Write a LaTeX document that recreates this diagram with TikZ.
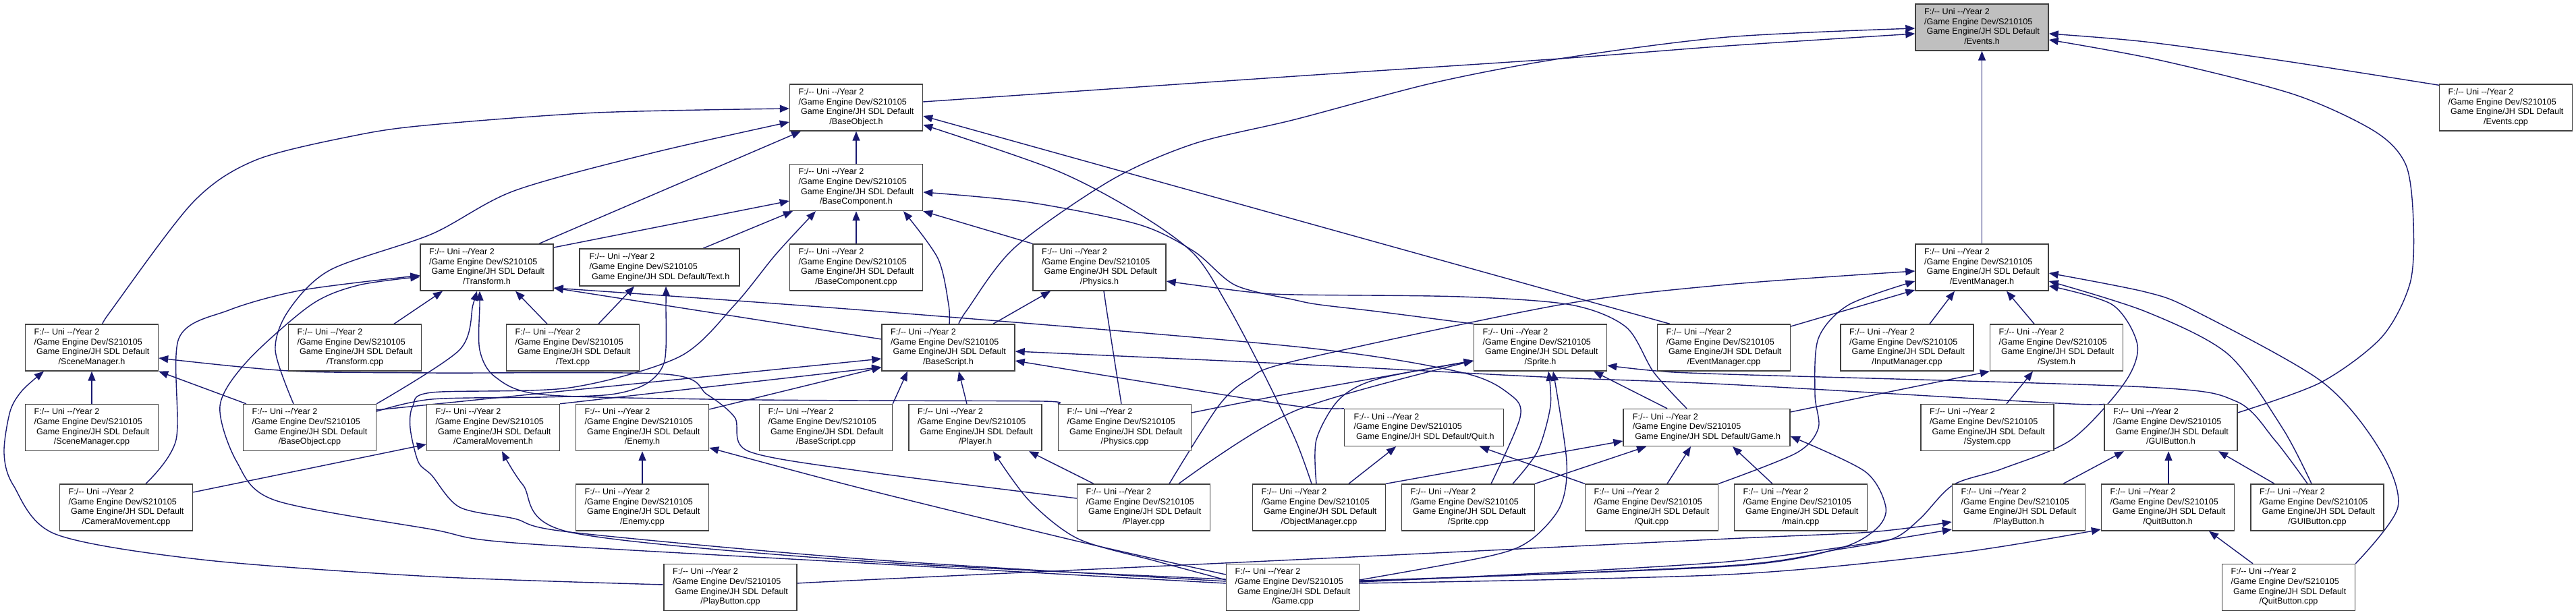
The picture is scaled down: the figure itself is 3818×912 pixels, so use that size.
\documentclass[tikz,border=0pt]{standalone}
\usepackage{fontspec}
\setmainfont{Liberation Sans}
\usetikzlibrary{arrows.meta}
\pgfdeclarelayer{bg}
\pgfdeclarelayer{edgelayer}
\pgfsetlayers{bg,edgelayer,main}
\definecolor{edgecol}{HTML}{191970}
\definecolor{bordercol}{HTML}{404040}
\definecolor{grayfill}{HTML}{BFBFBF}
\newcommand{\fourl}[1]{\begin{tabular}{@{}l@{}}F:/-{}- Uni -{}-/Year 2\\/Game Engine Dev/S210105\\\ Game Engine/JH SDL Default\\\multicolumn{1}{@{}c@{}}{#1}\end{tabular}}
\newcommand{\threel}[1]{\begin{tabular}{@{}l@{}}F:/-{}- Uni -{}-/Year 2\\/Game Engine Dev/S210105\\\ Game Engine/JH SDL Default/#1\end{tabular}}
\begin{document}
\begin{tikzpicture}[x=1pt, y=-1pt,
  font=\fontsize{12.6}{14.7}\selectfont,
  box/.style={draw=bordercol, line width=1.4pt, fill=white, inner sep=0pt, minimum width=197pt, minimum height=69pt},
  sbox/.style={box, minimum height=55pt},
  edge/.style={draw=edgecol, line width=1.4pt, -{Triangle[length=14pt,width=11pt]}}]
\begin{pgfonlayer}{bg}
\fill[white] (0,0) rectangle (3818,912);
\end{pgfonlayer}
\useasboundingbox (0,0) rectangle (3818,912);
% nodes
\node[box, fill=grayfill] (evh) at (2937.5,40.5) {\fourl{/Events.h}};
\node[box] (evcpp) at (3714,159.5) {\fourl{/Events.cpp}};
\node[box] (evm) at (2937.5,396.5) {\fourl{/EventManager.h}};
\node[box] (boh) at (1269,159.5) {\fourl{/BaseObject.h}};
\node[box] (bch) at (1269,278) {\fourl{/BaseComponent.h}};
\node[box] (bccpp) at (1269,396.5) {\fourl{/BaseComponent.cpp}};
\node[box] (trh) at (721.5,396.5) {\fourl{/Transform.h}};
\node[sbox, minimum width=237pt] (txh) at (977.5,396.5) {\threel{Text.h}};
\node[box] (phh) at (1629.5,396.5) {\fourl{/Physics.h}};
\node[box] (smh) at (136,515.5) {\fourl{/SceneManager.h}};
\node[box] (trcpp) at (526,515.5) {\fourl{/Transform.cpp}};
\node[box] (txcpp) at (849,515.5) {\fourl{/Text.cpp}};
\node[box] (bsh) at (1405.5,515.5) {\fourl{/BaseScript.h}};
\node[box] (sph) at (2283,515.5) {\fourl{/Sprite.h}};
\node[box] (emcpp) at (2555,515.5) {\fourl{/EventManager.cpp}};
\node[box] (imcpp) at (2826.5,515.5) {\fourl{/InputManager.cpp}};
\node[box] (sysh) at (3048,515.5) {\fourl{/System.h}};
\node[box] (smcpp) at (136,634) {\fourl{/SceneManager.cpp}};
\node[box] (bocpp) at (459,634) {\fourl{/BaseObject.cpp}};
\node[box] (cmh) at (731,634) {\fourl{/CameraMovement.h}};
\node[box] (enh) at (952,634) {\fourl{/Enemy.h}};
\node[box] (bscpp) at (1224,634) {\fourl{/BaseScript.cpp}};
\node[box] (plh) at (1445.5,634) {\fourl{/Player.h}};
\node[box] (phcpp) at (1667,634) {\fourl{/Physics.cpp}};
\node[sbox, minimum width=236pt] (qh) at (2110.6,634) {\threel{Quit.h}};
\node[sbox, minimum width=247pt] (gh) at (2529.5,634) {\threel{Game.h}};
\node[box] (syscpp) at (2945.5,634) {\fourl{/System.cpp}};
\node[box] (guih) at (3217.5,634) {\fourl{/GUIButton.h}};
\node[box] (cmcpp) at (187,752.5) {\fourl{/CameraMovement.cpp}};
\node[box] (encpp) at (952,752.5) {\fourl{/Enemy.cpp}};
\node[box] (plcpp) at (1695,752.5) {\fourl{/Player.cpp}};
\node[box] (omcpp) at (1955,752.5) {\fourl{/ObjectManager.cpp}};
\node[box] (spcpp) at (2176,752.5) {\fourl{/Sprite.cpp}};
\node[box] (qcpp) at (2448,752.5) {\fourl{/Quit.cpp}};
\node[box] (maincpp) at (2669,752.5) {\fourl{/main.cpp}};
\node[box] (pbh) at (2992,752.5) {\fourl{/PlayButton.h}};
\node[box] (qbh) at (3213,752.5) {\fourl{/QuitButton.h}};
\node[box] (guicpp) at (3434.5,752.5) {\fourl{/GUIButton.cpp}};
\node[box] (pbcpp) at (1082.5,871) {\fourl{/PlayButton.cpp}};
\node[box] (gcpp) at (1916,871) {\fourl{/Game.cpp}};
\node[box] (qbcpp) at (3392,871) {\fourl{/QuitButton.cpp}};
\begin{pgfonlayer}{edgelayer}
% Events.h
\draw[edge] (evm.north) -- (evh.south);
\draw[edge] plot[smooth] coordinates {([yshift=-2pt]evcpp.north west) (3383,90) (3180,62) ([yshift=-9.5pt]evh.east)};
\draw[edge] plot[smooth] coordinates {([yshift=22pt]guih.east) (3440,567) (3530,500) (3572,420) (3577,330) (3566,245) (3520,195) (3400,140) (3200,89) ([yshift=-18.5pt]evh.east)};
\draw[edge] plot[smooth] coordinates {([yshift=8.5pt]boh.east) (1920,113) (2312,87) (2560,68) ([yshift=-9.5pt]evh.west)};
\draw[edge] plot[smooth] coordinates {([xshift=15.5pt]bsh.north) (1433,460) (1504,367) (1647,267) (1770,213) (1920,177) (2124,123) (2312,87) (2560,55) ([yshift=-1.5pt]evh.west)};
% BaseObject.h
\draw[edge] (bch.north) -- (boh.south);
\draw[edge] ([xshift=77.5pt]trh.north) -- ([xshift=-82pt]boh.south);
\draw[edge] plot[smooth] coordinates {([xshift=17pt]smh.north) (165,460) (286,300) (380,237) (531,200) (640,185) (885,167) ([yshift=-1.5pt]boh.west)};
\draw[edge] plot[smooth] coordinates {([xshift=-24pt]bocpp.north) (408,519) (428,460) (490,400) (640,347) (762,283) (966,227) ([yshift=-21.5pt]boh.west)};
\draw[edge] ([xshift=-80pt]emcpp.north) -- ([yshift=-12.5pt]boh.east);
\draw[edge] plot[smooth] coordinates {([xshift=-11pt]omcpp.north) (1920,652) (1872,552) (1819,452) (1770,377) (1688,317) (1566,253) ([yshift=-25.5pt]boh.east)};
% BaseComponent.h
\draw[edge] ([yshift=29.5pt]trh.east) -- ([yshift=-20pt]bch.west);
\draw[edge] ([xshift=64.5pt]txh.north) -- ([xshift=-94pt]bch.south);
\draw[edge] plot[smooth] coordinates {([yshift=9pt]gcpp.west) (1280,829) (844,789) (762,769) (681,752) (640,705) (620,685) (608,635) (612,602) (640,582) (844,575) (1007,529) (1089,452) (1150,377) ([xshift=-60pt]bch.south)};
\draw[edge] (bccpp.north) -- (bch.south);
\draw[edge] (phh.north west) -- (bch.south east);
\draw[edge] plot[smooth] coordinates {([xshift=1.5pt]bsh.north) (1406,452) (1390,383) ([xshift=70pt]bch.south)};
\draw[edge] plot[smooth] coordinates {(sph.north west) (2042,462) (1957,452) (1920,445) (1831,423) (1770,373) (1688,333) (1525,300) ([yshift=-7pt]bch.east)};
% Physics.h
\draw[edge] plot[smooth] coordinates {([xshift=-29.5pt]gh.north) (2451,552) (2410,485) (2328,452) (2165,440) (1920,437) (1851,433) ([yshift=-20.5pt]phh.east)};
\draw[edge] plot[smooth] coordinates {([xshift=-5pt]phcpp.north) (1639,452) ([xshift=7.5pt]phh.south)};
\draw[edge] ([xshift=66.5pt]bsh.north) -- ([xshift=-72.5pt]phh.south);
% Transform.h
\draw[edge] ([xshift=58pt]trcpp.north) -- ([xshift=-65.5pt]trh.south);
\draw[edge] plot[smooth] coordinates {(bocpp.north east) (681,519) (701,452) ([xshift=-14.5pt]trh.south)};
\draw[edge] plot[smooth] coordinates {(phcpp.north west) (1545,595) (1280,594) (1048,592) (803,585) (734,559) (711,519) (711,452) ([xshift=-10.5pt]trh.south)};
\draw[edge] ([xshift=-38pt]txcpp.north) -- ([xshift=42.5pt]trh.south);
\draw[edge] plot[smooth] coordinates {([xshift=29pt]cmcpp.north) (261,652) (265,502) (339,460) (449,430) ([yshift=-12pt]trh.west)};
\draw[edge] plot[smooth] coordinates {([yshift=6pt]gcpp.west) (1280,835) (762,805) (640,785) (408,742) (351,685) (326,602) (367,535) (461,452) (531,423) ([yshift=-14pt]trh.west)};
\draw[edge] ([yshift=12.5pt]bsh.west) -- ([yshift=-30.5pt]trh.east);
\draw[edge] plot[smooth] coordinates {([xshift=34pt]spcpp.north) (2253,619) (2238,585) (2165,552) (1920,514) (1280,460) ([yshift=-30.5pt]trh.east)};
% Text.h
\draw[edge] ([xshift=38pt]txcpp.north) -- ([xshift=-37.5pt]txh.south);
\draw[edge] plot[smooth] coordinates {([yshift=24pt]bocpp.east) (640,592) (803,589) (905,585) (958,569) (985,535) (987,452) ([xshift=9.5pt]txh.south)};
% SceneManager.h
\draw[edge] (smcpp.north) -- (smh.south);
\draw[edge] ([xshift=-94pt]bocpp.north) -- (smh.south east);
\draw[edge] plot[smooth] coordinates {([yshift=13.5pt]plcpp.west) (1280,699) (1109,669) (1089,619) (1048,585) (987,555) (640,553) (428,550) ([yshift=-15.5pt]smh.east)};
\draw[edge] plot[smooth] coordinates {([yshift=4pt]pbcpp.west) (640,855) (300,830) (82,792) (20,720) (6,672) (15,610) (33,579) ([xshift=-71pt]smh.south)};
% BaseScript.h
\draw[edge] ([yshift=26pt]bocpp.east) -- ([yshift=-16.5pt]bsh.west);
\draw[edge] (cmh.north east) -- ([yshift=-29pt]bsh.west);
\draw[edge] ([yshift=27pt]enh.east) -- ([yshift=-29pt]bsh.west);
\draw[edge] (bscpp.north east) -- ([xshift=-60.5pt]bsh.south);
\draw[edge] ([xshift=-12.5pt]plh.north) -- ([xshift=15.5pt]bsh.south);
\draw[edge] plot[smooth] coordinates {(guih.north west) (3050,598) (2560,570) (2287,559) (1920,540) ([yshift=-5.5pt]bsh.east)};
\draw[edge] plot[smooth] coordinates {(qh.north west) (1920,602) (1688,565) ([yshift=-19.5pt]bsh.east)};
% Sprite.h
\draw[edge] plot[smooth] coordinates {([yshift=22pt]phcpp.east) (1920,582) ([yshift=-19.5pt]sph.west)};
\draw[edge] plot[smooth] coordinates {([xshift=52pt]plcpp.north) (1920,609) ([yshift=-19.5pt]sph.west)};
\draw[edge] plot[smooth] coordinates {([xshift=-4pt]omcpp.north) (1951,652) (1985,592) (2042,562) ([yshift=-19.5pt]sph.west)};
\draw[edge] plot[smooth] coordinates {([xshift=66pt]spcpp.north) (2279,669) (2298,602) ([xshift=12pt]sph.south)};
\draw[edge] plot[smooth] coordinates {([yshift=11pt]gcpp.east) (2206,825) (2267,802) (2312,752) (2322,685) ([xshift=19pt]sph.south)};
\draw[edge] ([xshift=-58.5pt]gh.north) -- ([xshift=79pt]sph.south);
\draw[edge] plot[smooth] coordinates {([xshift=-14.5pt]guicpp.north) (3371,652) (3314,595) (3180,574) (2560,555) (2455,550) ([yshift=-26.5pt]sph.east)};
% EventManager.h
\draw[edge] ([yshift=31.5pt]emcpp.east) -- ([yshift=-33.5pt]evm.west);
\draw[edge] plot[smooth] coordinates {(qcpp.north east) (2662,672) (2695,635) (2690,585) (2695,502) (2740,452) ([yshift=-20.5pt]evm.west)};
\draw[edge] plot[smooth] coordinates {([xshift=38pt]plcpp.north) (1806,602) (1851,562) (1920,535) (2312,452) (2560,422) ([yshift=-5.5pt]evm.west)};
\draw[edge] ([xshift=33.5pt]imcpp.north) -- ([xshift=-40.5pt]evm.south);
\draw[edge] ([xshift=-33pt]sysh.north) -- ([xshift=36.5pt]evm.south);
\draw[edge] plot[smooth] coordinates {([xshift=-8.5pt]guicpp.north) (3383,635) (3302,525) (3180,462) ([yshift=-20.5pt]evm.east)};
\draw[edge] plot[smooth] coordinates {(qbcpp.north east) (3554,752) (3526,665) (3440,565) (3251,460) (3180,433) ([yshift=-8.5pt]evm.east)};
\draw[edge] plot[smooth] coordinates {([yshift=9pt]gcpp.east) (2560,839) (2723,815) (2805,799) (2846,769) (2895,719) (2968,695) (3070,652) (3148,569) (3168,512) (3131,452) ([yshift=-27.5pt]evm.east)};
% System.h
\draw[edge] ([xshift=28.5pt]syscpp.north) -- ([xshift=-35pt]sysh.south);
\draw[edge] ([yshift=23pt]gh.east) -- (sysh.south west);
% GUIButton.h
\draw[edge] ([xshift=-63.5pt]guicpp.north) -- ([xshift=70.5pt]guih.south);
\draw[edge] ([xshift=66pt]pbh.north) -- ([xshift=-69.5pt]guih.south);
\draw[edge] ([xshift=1pt]qbh.north) -- ([xshift=-3.5pt]guih.south);
% CameraMovement.h
\draw[edge] ([yshift=22.5pt]cmcpp.east) -- ([yshift=-25pt]cmh.west);
\draw[edge] plot[smooth] coordinates {([yshift=12pt]gcpp.west) (1280,832) (844,789) (775,719) ([xshift=13pt]cmh.south)};
% Enemy.h
\draw[edge] (encpp.north) -- (enh.south);
\draw[edge] plot[smooth] coordinates {([yshift=19pt]gcpp.west) (1607,805) (1280,725) ([yshift=-30pt]enh.east)};
% Player.h
\draw[edge] ([xshift=-74pt]plcpp.north) -- ([xshift=79.5pt]plh.south);
\draw[edge] plot[smooth] coordinates {([yshift=11pt]gcpp.west) (1713,832) (1598,799) (1525,742) ([xshift=26.5pt]plh.south)};
% Quit.h
\draw[edge] (qcpp.north west) -- ([xshift=82.5pt]qh.south);
\draw[edge] ([xshift=44pt]omcpp.north) -- ([xshift=-41.5pt]qh.south);
% Game.h
\draw[edge] (omcpp.north east) -- ([yshift=-20pt]gh.west);
\draw[edge] (spcpp.north east) -- ([xshift=-89.5pt]gh.south);
\draw[edge] ([xshift=23pt]qcpp.north) -- ([xshift=-23.5pt]gh.south);
\draw[edge] ([xshift=-42pt]maincpp.north) -- ([xshift=38.5pt]gh.south);
\draw[edge] plot[smooth] coordinates {([yshift=10pt]gcpp.east) (2560,840) (2723,814) (2780,785) (2795,752) (2764,699) ([yshift=-13pt]gh.east)};
% PlayButton.h / QuitButton.h
\draw[edge] plot[smooth] coordinates {([yshift=6pt]pbcpp.east) (1280,860) (1920,830) (2560,799) (2772,789) ([yshift=-21.5pt]pbh.west)};
\draw[edge] plot[smooth] coordinates {([yshift=8pt]gcpp.east) (2560,833) ([yshift=-32.5pt]pbh.west)};
\draw[edge] plot[smooth] coordinates {([yshift=6pt]gcpp.east) (2560,852) (2900,820) ([yshift=-32.5pt]qbh.west)};
\draw[edge] ([xshift=-53pt]qbcpp.north) -- ([xshift=61pt]qbh.south);
\end{pgfonlayer}
\end{tikzpicture}
\end{document}
